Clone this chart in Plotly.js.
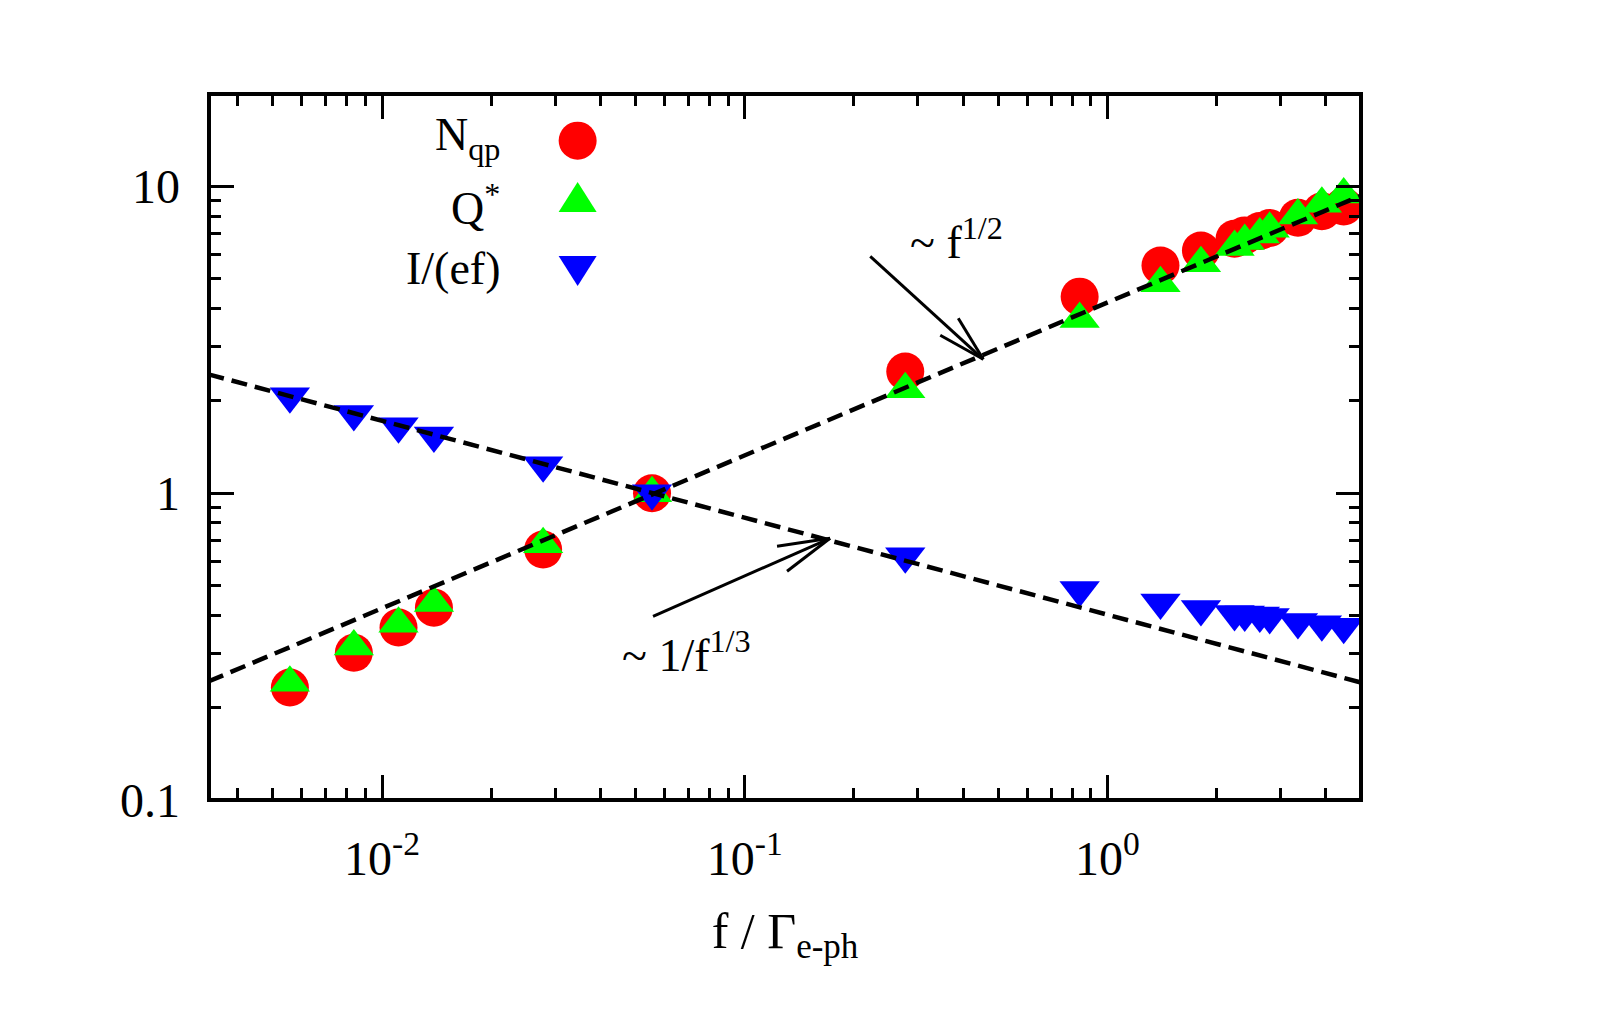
<!DOCTYPE html>
<html>
<head>
<meta charset="utf-8">
<script src="https://cdn.plot.ly/plotly-3.0.1.min.js"></script>
<style>
html,body{margin:0;padding:0;background:#ffffff;}
#chart{width:1599px;height:1032px;}
</style>
</head>
<body>
<div id="chart"></div>
<script>
// ---- data ----
const freq    = [0.00557, 0.00836, 0.0111, 0.0139, 0.0278, 0.0555, 0.277, 0.838, 1.40, 1.81, 2.24, 2.39, 2.63, 2.80, 3.35, 3.90, 4.48];
const nqp     = [0.2325, 0.302, 0.365, 0.4236, 0.655, 1.0, 2.49, 4.37, 5.52, 6.18, 6.75, 6.92, 7.15, 7.32, 7.9, 8.3, 8.6];
const qstar   = [0.241, 0.3166, 0.3757, 0.4387, 0.681, 1.0, 2.18, 3.695, 4.83, 5.62, 6.34, 6.63, 6.97, 7.27, 8.04, 8.77, 9.41];
const current = [2.07, 1.813, 1.653, 1.541, 1.233, 1.0, 0.623, 0.484, 0.440, 0.4195, 0.404, 0.4026, 0.399, 0.395, 0.3805, 0.3737, 0.367];

// guide lines (end points)
const fitHalfX  = [0.00332, 5.0];
const fitHalfY  = [0.2433, 9.33];
const fitThirdX = [0.00332, 5.0];
const fitThirdY = [2.44, 0.2415];

// ticks
const xTickVals  = [0.01, 0.1, 1];
const xTickText  = ['10<sup>-2</sup>', '10<sup>-1</sup>', '10<sup>0</sup>'];
const yTickVals  = [0.1, 1, 10];
const yTickText  = ['0.1', '1', '10'];
const xMinorVals = [0.004,0.005,0.006,0.007,0.008,0.009,0.02,0.03,0.04,0.05,0.06,0.07,0.08,0.09,0.2,0.3,0.4,0.5,0.6,0.7,0.8,0.9,2,3,4,5];
const yMinorVals = [0.2,0.3,0.4,0.5,0.6,0.7,0.8,0.9,2,3,4,5,6,7,8,9];

const seriesNames = ['N<sub>qp</sub>', 'Q<sup>*</sup>', 'I/(ef)'];
const seriesColors = ['#ff0000', '#00ff00', '#0000ff'];
const guideLabels = ['~ f<sup>1/2</sup>', '~ 1/f<sup>1/3</sup>'];
const axisTitle = 'f / \u0393<sub>e-ph</sub>';

// ---- styling ----
const FONT = 'Liberation Serif, Times New Roman, serif';
const FS = 46;

const traces = [
  {x: freq, y: nqp, name: seriesNames[0], type: 'scatter', mode: 'markers',
   marker: {symbol: 'circle', size: 38, color: seriesColors[0], line: {width: 0}}, showlegend: false},
  {x: freq, y: qstar, name: seriesNames[1], type: 'scatter', mode: 'markers',
   marker: {symbol: 'triangle-up', size: 35, color: seriesColors[1], line: {width: 0}}, showlegend: false},
  {x: freq, y: current, name: seriesNames[2], type: 'scatter', mode: 'markers',
   marker: {symbol: 'triangle-down', size: 35, color: seriesColors[2], line: {width: 0}}, showlegend: false},
  {x: fitHalfX, y: fitHalfY, name: 'f^1/2', type: 'scatter', mode: 'lines',
   line: {color: '#000000', width: 4.5, dash: '16px,8px'}, showlegend: false},
  {x: fitThirdX, y: fitThirdY, name: 'f^-1/3', type: 'scatter', mode: 'lines',
   line: {color: '#000000', width: 4.5, dash: '16px,8px'}, showlegend: false}
];

const axisCommon = {
  type: 'log', showgrid: false, zeroline: false, showline: false,
  ticks: 'inside', ticklen: 25, tickwidth: 3, tickcolor: '#000000',
  mirror: 'ticks', tickmode: 'array',
  tickfont: {family: FONT, size: 48, color: '#000000'}
};

// legend placement (paper fractions)
const legTextX = 0.2543, legSymX = 0.32;
const legRowsY = [0.9339, 0.847, 0.7564];
const legTextY = [0.937, 0.843, 0.7535];

// arrows: tip position (paper) and pixel offsets of tail and barbs (y up)
const arrows = [
  {tip: [0.6721, 0.6242], tail: [-113, 103], barbs: [[-43, 24], [-25, 41]]},
  {tip: [0.5391, 0.3707], tail: [-177, -78], barbs: [[-53, -8], [-43, -33]]}
];

const annotations = [
  {xref: 'paper', yref: 'paper', x: legTextX, y: legTextY[0], xanchor: 'right', yanchor: 'middle',
   text: seriesNames[0], showarrow: false, font: {family: FONT, size: FS, color: '#000'}},
  {xref: 'paper', yref: 'paper', x: legTextX, y: legTextY[1], xanchor: 'right', yanchor: 'middle',
   text: seriesNames[1], showarrow: false, font: {family: FONT, size: FS, color: '#000'}},
  {xref: 'paper', yref: 'paper', x: legTextX, y: legTextY[2], xanchor: 'right', yanchor: 'middle',
   text: seriesNames[2], showarrow: false, font: {family: FONT, size: FS, color: '#000'}},
  {xref: 'paper', yref: 'paper', x: 0.6068, y: 0.795, xanchor: 'left', yanchor: 'middle',
   text: guideLabels[0], showarrow: false, font: {family: FONT, size: FS, color: '#000'}},
  {xref: 'paper', yref: 'paper', x: 0.3568, y: 0.2096, xanchor: 'left', yanchor: 'middle',
   text: guideLabels[1], showarrow: false, font: {family: FONT, size: FS, color: '#000'}}
];

const shapes = [
  {type: 'rect', xref: 'paper', yref: 'paper', x0: 0, x1: 1, y0: 0, y1: 1,
   line: {color: '#000000', width: 4}, layer: 'above'},
  {type: 'circle', xref: 'paper', yref: 'paper', xsizemode: 'pixel', ysizemode: 'pixel',
   xanchor: legSymX, yanchor: legRowsY[0], x0: -19, x1: 19, y0: -19, y1: 19,
   fillcolor: seriesColors[0], line: {width: 0}},
  {type: 'path', xref: 'paper', yref: 'paper', xsizemode: 'pixel', ysizemode: 'pixel',
   xanchor: legSymX, yanchor: legRowsY[1], path: 'M -19,-10 L 19,-10 L 0,20 Z',
   fillcolor: seriesColors[1], line: {width: 0}},
  {type: 'path', xref: 'paper', yref: 'paper', xsizemode: 'pixel', ysizemode: 'pixel',
   xanchor: legSymX, yanchor: legRowsY[2], path: 'M -19,10 L 19,10 L 0,-20 Z',
   fillcolor: seriesColors[2], line: {width: 0}}
];

arrows.forEach(function (a) {
  const segs = [a.tail].concat(a.barbs);
  segs.forEach(function (s) {
    shapes.push({type: 'line', xref: 'paper', yref: 'paper', xsizemode: 'pixel', ysizemode: 'pixel',
      xanchor: a.tip[0], yanchor: a.tip[1], x0: s[0], y0: s[1], x1: 0, y1: 0,
      line: {color: '#000000', width: 3}, layer: 'above'});
  });
});

const layout = {
  width: 1599, height: 1032,
  margin: {l: 209, r: 238, t: 94, b: 232},
  paper_bgcolor: '#ffffff', plot_bgcolor: '#ffffff',
  font: {family: FONT, size: FS, color: '#000000'},
  showlegend: false,
  xaxis: Object.assign({}, axisCommon, {
    range: [Math.log10(1/300), Math.log10(5.0)],
    tickvals: xTickVals, ticktext: xTickText, ticklabelstandoff: 26,
    minor: {tickmode: 'array', tickvals: xMinorVals, ticks: 'inside', ticklen: 12, tickwidth: 3, tickcolor: '#000000', showgrid: false},
    title: {text: axisTitle, font: {family: FONT, size: 50, color: '#000'}, standoff: 28}
  }),
  yaxis: Object.assign({}, axisCommon, {
    range: [-1, Math.log10(20)],
    tickvals: yTickVals, ticktext: yTickText, ticklabelstandoff: 28,
    minor: {tickmode: 'array', tickvals: yMinorVals, ticks: 'inside', ticklen: 12, tickwidth: 3, tickcolor: '#000000', showgrid: false}
  }),
  annotations: annotations,
  shapes: shapes
};

Plotly.newPlot('chart', traces, layout, {displayModeBar: false, staticPlot: true});
</script>
</body>
</html>
